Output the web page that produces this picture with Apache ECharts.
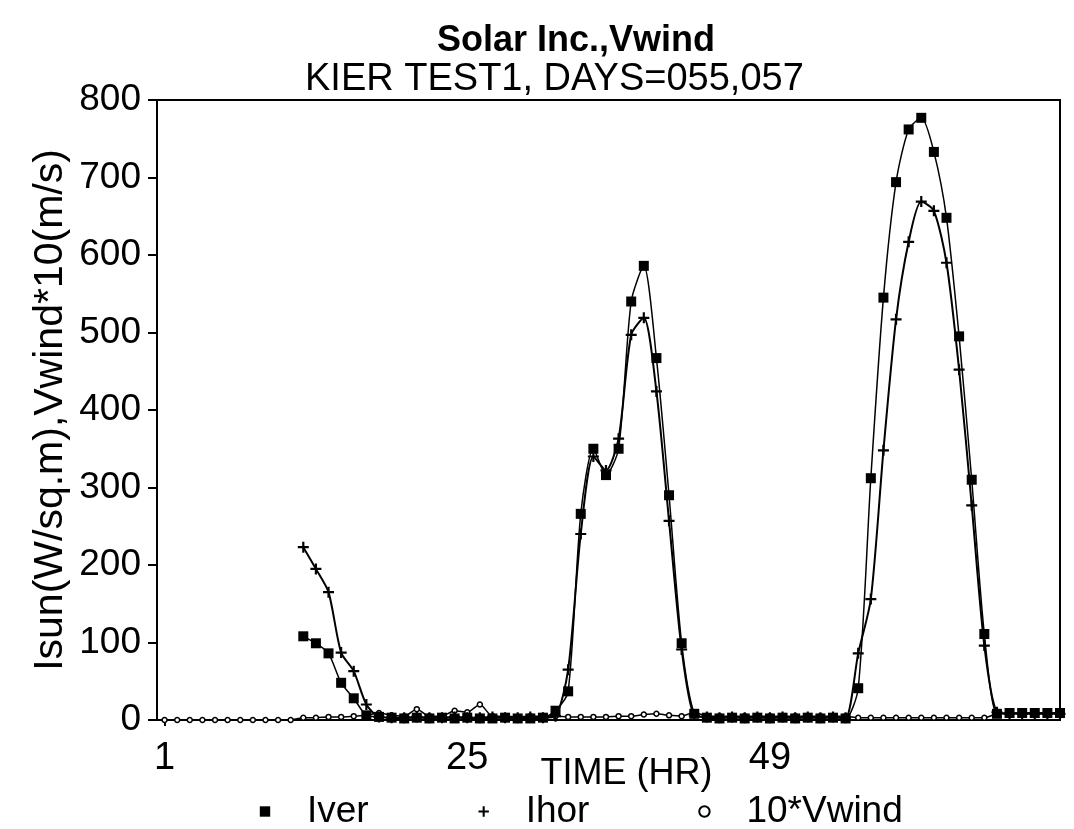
<!DOCTYPE html>
<html>
<head>
<meta charset="utf-8">
<title>Solar Inc.,Vwind</title>
<script src="https://cdn.jsdelivr.net/npm/echarts@6/dist/echarts.min.js"></script>
<style>
	html, body { margin: 0; padding: 0; background: #fff; }
	#chart { width: 1074px; height: 829px; }
</style>
</head>
<body>
<div id="chart"></div>
<script>
	// 数据 (hour 1..72)
	var xTicks = [ 1, 25, 49 ];
	var iver = [
		null, null, null, null, null, null, null, null, null, null, null,
		108, 99, 86, 48, 28, 6,
		4, 3, 2, 3, 2, 3, 2, 3, 2, 2, 3, 2, 2, 3, 12,
		37, 266, 350, 316, 350, 540, 586, 467, 290, 99, 8,
		3, 2, 3, 2, 3, 2, 3, 2, 3, 2, 3, 2,
		41, 312, 545, 694, 762, 777, 733, 648, 495, 310, 111, 8,
		9, 9, 9, 9, 9 ];
	var ihor = [
		null, null, null, null, null, null, null, null, null, null, null,
		223, 195, 165, 87, 63, 20,
		4, 3, 3, 4, 3, 3, 4, 3, 3, 4, 3, 3, 4, 3, 5,
		65, 240, 340, 322, 363, 497, 519, 424, 257, 91, 6,
		4, 3, 4, 3, 4, 3, 4, 3, 4, 3, 4, 3,
		86, 156, 348, 517, 617, 669, 657, 590, 452, 277, 96, 10,
		8, 8, 8, 8, 8 ];
	var vwind = [
		0, 0, 0, 0, 0, 0, 0, 0, 0, 0, 0,
		3, 3, 4, 4, 5, 6,
		9, 6, 5, 14, 5, 5, 12, 10, 20, 5, 5, 4, 5, 5, 5,
		4, 4, 4, 4, 5, 5, 7, 8, 6, 5, 10,
		5, 5, 5, 5, 5, 5, 5, 5, 5, 5, 5, 5,
		3, 3, 3, 3, 3, 3, 3, 3, 3, 3, 3, 8,
		9, 9, 9, 9, 9 ];

	function pairs(arr) {
		var out = [];
		for (var i = 0; i < arr.length; i++) {
			out.push([ i + 1, arr[i] ]);
		}
		return out;
	}

	var font = '"Liberation Sans", Arial, Helvetica, sans-serif';
	var plus = 'path://M4,0h2v4h4v2h-4v4h-2v-4h-4v-2h4z';

	var chart = echarts.init(document.getElementById('chart'));
	chart.setOption({
		animation : false,
		textStyle : {
			fontFamily : font,
			color : '#000'
		},
		title : [ {
			text : 'Solar Inc.,Vwind',
			left : 432,
			top : 18,
			textStyle : { fontSize : 36, fontWeight : 'bold', color : '#000', fontFamily : font }
		}, {
			text : 'KIER TEST1, DAYS=055,057',
			left : 300,
			top : 56,
			textStyle : { fontSize : 38, fontWeight : 'normal', color : '#000', fontFamily : font }
		} ],
		grid : {
			left : 157,
			right : 14,
			top : 100,
			bottom : 109,
			show : true,
			borderColor : '#000',
			borderWidth : 2
		},
		legend : {
			top : 788,
			left : 222,
			itemWidth : 74,
			itemHeight : 13,
			itemGap : 77,
			lineStyle : { opacity : 0 },
			textStyle : { fontSize : 37, color : '#000', fontFamily : font },
			data : [ 'Iver', 'Ihor', '10*Vwind' ]
		},
		xAxis : {
			type : 'value',
			min : 0.4,
			max : 72,
			name : 'TIME (HR)',
			nameLocation : 'middle',
			nameGap : 36,
			nameMoveOverlap : false,
			nameTextStyle : { fontSize : 36, color : '#000', padding : [ 0, 0, 0, 36 ] },
			axisLine : { lineStyle : { color : '#000', width : 2 } },
			axisTick : { customValues : [ 1 ], length : 6, lineStyle : { color : '#000', width : 2 } },
			axisLabel : { customValues : xTicks, fontSize : 38, color : '#000', margin : 20 },
			splitLine : { show : false }
		},
		yAxis : {
			type : 'value',
			min : 0,
			max : 800,
			interval : 100,
			name : 'Isun(W/sq.m),Vwind*10(m/s)',
			nameLocation : 'middle',
			nameRotate : 90,
			nameGap : 86,
			nameMoveOverlap : false,
			nameTextStyle : { fontSize : 41, color : '#000' },
			axisLine : { show : true, lineStyle : { color : '#000', width : 2 } },
			axisTick : { show : true, length : 9, lineStyle : { color : '#000', width : 2 } },
			axisLabel : { fontSize : 37, color : '#000', margin : 16 },
			splitLine : { show : false }
		},
		series : [ {
			name : 'Iver',
			type : 'line',
			z : 3,
			smooth : 0.25,
			data : pairs(iver),
			symbol : 'rect',
			symbolSize : 10,
			itemStyle : { color : '#000' },
			lineStyle : { color : '#000', width : 1.5 }
		}, {
			name : 'Ihor',
			type : 'line',
			z : 3,
			smooth : 0.25,
			data : pairs(ihor),
			symbol : plus,
			symbolSize : 11,
			itemStyle : { color : '#000' },
			lineStyle : { color : '#000', width : 2 }
		}, {
			name : '10*Vwind',
			type : 'line',
			z : 2,
			smooth : 0.25,
			data : pairs(vwind),
			symbol : 'circle',
			symbolSize : 5,
			itemStyle : { color : '#fff', borderColor : '#000', borderWidth : 1.5 },
			lineStyle : { color : '#000', width : 1.5 }
		} ]
	});
</script>
</body>
</html>
